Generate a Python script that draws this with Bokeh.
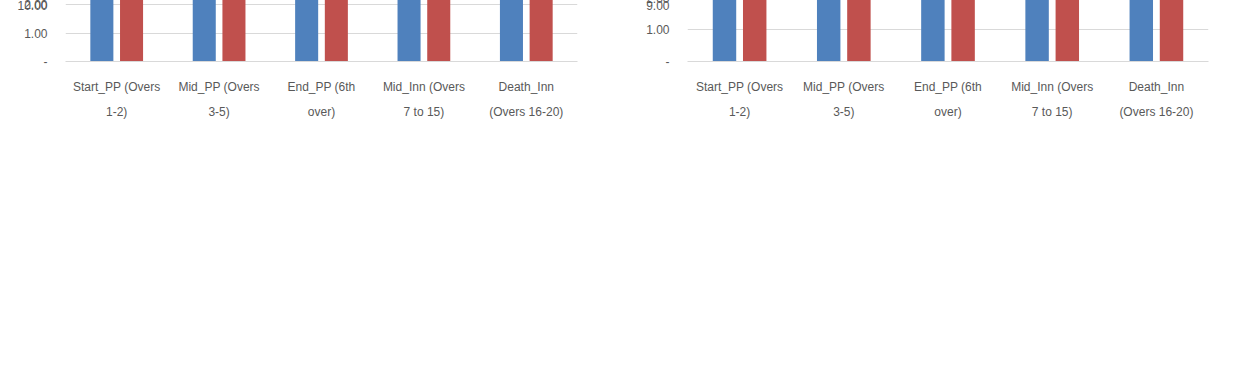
from bokeh.plotting import figure
from bokeh.models import (ColumnDataSource, FixedTicker, Legend, LegendItem, Range1d, Spacer,
                          LinearAxis)
from bokeh.transform import dodge
from bokeh.layouts import row
from bokeh.embed import file_html
from bokeh.resources import INLINE

cat_line1 = ["Start_PP (Overs", "Mid_PP (Overs", "End_PP (6th", "Mid_Inn (Overs", "Death_Inn"]
cat_line2 = ["1-2)", "3-5)", "over)", "7 to 15)", "(Overs 16-20)"]
series_names = ["Avg run rate in last 10 balls", "Avg run rate in next 10 balls"]
inn1_last = [4.48, 7.31, 7.86, 7.59, 9.46]
inn1_next = [5.24, 5.54, 4.98, 5.60, 7.61]
inn2_last = [4.84, 7.66, 8.15, 7.34, 8.44]
inn2_next = [5.67, 5.86, 5.29, 5.78, 7.26]
titles = ["1st Innings wicket balls", "2nd Innings wicket balls"]
y_max = [10, 9]

BLUE = "#4f81bd"
RED = "#c0504d"
GRID = "#d9d9d9"
TXT = "#595959"
FS = "12px"


def make_chart(title, last, nxt, ymax, width, bl, br):
    n = len(cat_line1)
    idx = list(range(n))
    src = ColumnDataSource(dict(
        idx=idx, last=last, nxt=nxt,
        last_lbl=[f"{v:.2f}" for v in last],
        nxt_lbl=[f"{v:.2f}" for v in nxt],
    ))
    p = figure(x_range=Range1d(-0.5, n - 0.5), y_range=Range1d(0, ymax), title=title,
               width=width, height=357, output_backend="svg", toolbar_location=None,
               x_axis_location=None,
               min_border_left=bl, min_border_right=br, min_border_top=61, min_border_bottom=95)
    p.title.text_font_size = "18px"
    p.title.text_font_style = "normal"
    p.title.text_color = TXT
    p.title.align = "center"

    r1 = p.vbar(x=dodge("idx", -0.145), top="last", width=0.225,
                source=src, color=BLUE, line_color=None)
    r2 = p.vbar(x=dodge("idx", 0.145), top="nxt", width=0.225,
                source=src, color=RED, line_color=None)
    for col, off in (("last", -0.145), ("nxt", 0.145)):
        p.text(x=dodge("idx", off), y=col, text=col + "_lbl", source=src,
               text_align="center", text_baseline="bottom", y_offset=-6,
               text_font_size=FS, text_color="#404040")

    p.yaxis.ticker = FixedTicker(ticks=list(range(0, ymax + 1)))
    p.yaxis.major_label_overrides = {i: ("-" if i == 0 else f"{i:.2f}") for i in range(0, ymax + 1)}
    p.yaxis.axis_line_color = None
    p.yaxis.major_tick_line_color = None
    p.yaxis.minor_tick_line_color = None
    p.yaxis.major_label_text_font_size = FS
    p.yaxis.major_label_text_color = TXT
    p.yaxis.major_label_standoff = 12

    for k, lines in enumerate((cat_line1, cat_line2)):
        ax = LinearAxis(ticker=FixedTicker(ticks=idx),
                        major_label_overrides={i: lines[i] for i in idx},
                        axis_line_color=GRID if k == 0 else None,
                        major_tick_line_color=None, minor_tick_line_color=None,
                        major_label_text_font_size=FS,
                        major_label_text_color=TXT,
                        major_label_standoff=12 if k == 0 else 2)
        p.add_layout(ax, "below")

    p.xgrid.grid_line_color = None
    p.ygrid.grid_line_color = GRID
    p.outline_line_color = None

    legend = Legend(items=[LegendItem(label=series_names[0], renderers=[r1]),
                           LegendItem(label=series_names[1], renderers=[r2])],
                    location="center", orientation="horizontal",
                    label_text_font_size=FS, label_text_color=TXT,
                    glyph_width=8, glyph_height=8, spacing=28, label_standoff=4,
                    border_line_color=None)
    p.add_layout(legend, "below")
    return p


p1 = make_chart(titles[0], inn1_last, inn1_next, y_max[0], 596, 65, 19)
p2 = make_chart(titles[1], inn2_last, inn2_next, y_max[1], 595, 57, 17)
layout = row(p1, Spacer(width=34, height=10), p2)
open("out.html", "w").write(file_html(layout, INLINE))
